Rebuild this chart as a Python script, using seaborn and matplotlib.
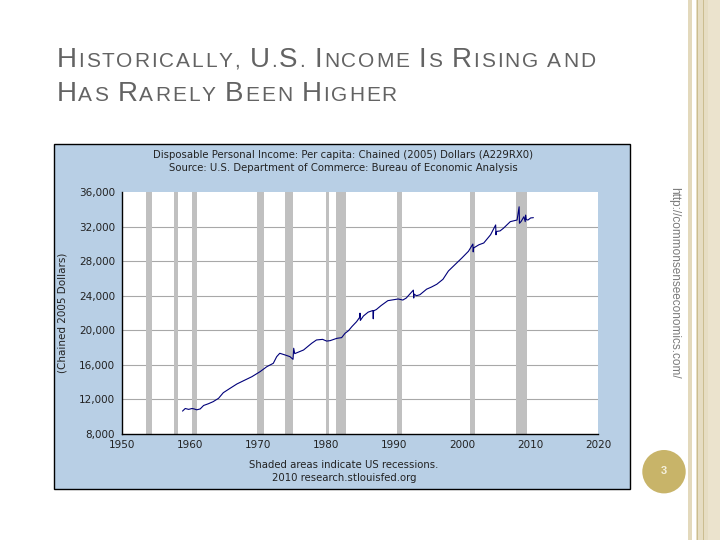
import matplotlib
matplotlib.use('Agg')
import matplotlib.pyplot as plt
import seaborn as sns
from matplotlib.patches import Rectangle, Ellipse

# ==================================================
# DATA
# ==================================================
years = [1958.9, 1959.3, 1959.8, 1960.3, 1960.6, 1961.0, 1961.5, 1962.0, 1962.7,
         1963.4, 1964.2, 1964.9, 1965.9, 1966.9, 1968.1, 1969.1, 1970.3, 1971.3,
         1972.25, 1972.75, 1973.2, 1974.0, 1974.7, 1975.15, 1975.25, 1975.4,
         1976.7, 1977.9, 1978.6, 1979.5, 1980.1, 1980.6, 1981.6, 1982.3, 1982.8,
         1983.3, 1983.8, 1984.5, 1984.95, 1985.0, 1985.05, 1985.5, 1986.2,
         1986.9, 1986.95, 1987.0, 1987.4, 1988.1, 1989.1, 1990.6, 1991.3, 1991.8,
         1992.85, 1992.9, 1992.95, 1993.3, 1993.8, 1994.8, 1995.5, 1996.3, 1997.2,
         1998.0, 1999.0, 2000.0, 2000.95, 2001.6, 2001.65, 2001.7, 2002.5, 2003.2,
         2004.2, 2004.95, 2005.0, 2005.05, 2005.6, 2006.1, 2007.1, 2008.1, 2008.4,
         2008.45, 2008.7, 2009.1, 2009.3, 2009.35, 2009.45, 2009.7, 2010.1, 2010.5]
dpi_pc = [10650, 10950, 10850, 10950, 10900, 10800, 10900, 11300, 11500,
          11740, 12130, 12780, 13290, 13790, 14250, 14630, 15210, 15790,
          16180, 16950, 17340, 17140, 16950, 16640, 17920, 17300,
          17720, 18500, 18880, 18950, 18750, 18800, 19070, 19150, 19650,
          19950, 20420, 21000, 21500, 21980, 21140, 21650, 22100,
          22290, 21330, 22250, 22400, 22860, 23430, 23620, 23500, 23730,
          24650, 23730, 24190, 24000, 24110, 24760, 25000, 25330, 25900,
          26860, 27620, 28380, 29140, 29980, 29070, 29520, 29900, 30100,
          31050, 32190, 31050, 31430, 31500, 31810, 32570, 32760, 34290,
          32380, 32600, 33140, 32570, 33330, 32800, 32760, 33000, 33030]

recessions = [(1953.5, 1954.4), (1957.6, 1958.3), (1960.3, 1961.1), (1969.9, 1970.9),
              (1973.9, 1975.2), (1980.0, 1980.5), (1981.5, 1982.9), (1990.5, 1991.2),
              (2001.2, 2001.9), (2007.9, 2009.5)]

x_ticks = [1950, 1960, 1970, 1980, 1990, 2000, 2010, 2020]
y_ticks = [8000, 12000, 16000, 20000, 24000, 28000, 32000, 36000]

W, H = 720, 540


def fx(px):
    return px / W


def fy(py):
    return 1 - py / H


sns.set_style('white')
plt.rcParams['font.family'] = ['DejaVu Sans']

fig = plt.figure(figsize=(7.2, 5.4), dpi=100)
fig.patch.set_facecolor('white')

# ==================================================
# SLIDE DECORATION
# ==================================================
fig.add_artist(Rectangle((fx(688), 0), fx(692) - fx(688), 1, transform=fig.transFigure,
                         facecolor='#e3d9bc', lw=0, zorder=-5))
fig.add_artist(Rectangle((fx(695.5), 0), 1 - fx(695.5), 1, transform=fig.transFigure,
                         facecolor='#e6ddc3', lw=0, zorder=-5))
fig.add_artist(Rectangle((fx(708), 0), 1 - fx(708), 1, transform=fig.transFigure,
                         facecolor='#ebe3cd', lw=0, zorder=-5))
for lx in [696.5, 702.5]:
    fig.add_artist(Rectangle((fx(lx), 0), 1.2 / W, 1, transform=fig.transFigure,
                             facecolor='#cbbd90', lw=0, zorder=-4))

fig.add_artist(Ellipse((fx(664), fy(471.7)), 2 * 21.7 / W, 2 * 21.7 / H,
                       transform=fig.transFigure, facecolor='#c8b469', lw=0))
fig.text(fx(664), fy(471.5), '3', ha='center', va='center', color='#f4f0dc',
         fontsize=8, fontweight='bold', family='Liberation Sans')

fig.text(fx(674), fy(283), 'http://commonsenseeconomics.com/', rotation=-90,
         ha='center', va='center', color='#7a7a7a', fontsize=8.5, family='Liberation Sans')

# small caps title, letter by letter with a bit of tracking
renderer = fig.canvas.get_renderer()
_widths = {}


def char_width(ch, size):
    key = (ch, size)
    if key not in _widths:
        a = fig.text(0, 0, 'x' + ch + 'x', fontsize=size, family='Liberation Sans')
        b = fig.text(0, 0, 'xx', fontsize=size, family='Liberation Sans')
        _widths[key] = a.get_window_extent(renderer).width - b.get_window_extent(renderer).width
        a.remove()
        b.remove()
    return _widths[key]


def small_caps(x_px, base_px, text, big=20, small=15, track=1.85, color='#636363'):
    x = x_px
    for ch in text:
        size = big if ch.isupper() else small
        c = ch.upper()
        if c != ' ':
            fig.text(fx(x), fy(base_px), c, fontsize=size, color=color,
                     family='Liberation Sans', va='baseline', ha='left')
        x += char_width(c, size) + track


small_caps(56.5, 66.7, 'Historically, U.S. Income Is Rising and')
small_caps(56.5, 101, 'Has Rarely Been Higher')

# ==================================================
# FRED CHART
# ==================================================
fig.add_artist(Rectangle((fx(54), fy(489)), fx(629.5) - fx(54), fy(144) - fy(489),
                         transform=fig.transFigure, facecolor='#b8cfe5',
                         edgecolor='black', lw=1, zorder=-3))

ax = fig.add_axes([fx(122), fy(434), fx(598) - fx(122), fy(192) - fy(434)])
ax.set_facecolor('white')

for v in y_ticks[1:-1]:
    ax.axhline(v, color='#a8a8a8', lw=0.8, zorder=0)
for s, e in recessions:
    ax.axvspan(s, e, color='#c0c0c0', lw=0, zorder=1)

sns.lineplot(x=years, y=dpi_pc, ax=ax, color='#00007a', lw=0.8, zorder=3)

ax.set_xlim(1950, 2020)
ax.set_ylim(8000, 36000)
ax.set_xticks(x_ticks)
ax.set_yticks(y_ticks)
ax.set_yticklabels([f'{v:,}' for v in y_ticks])
ax.tick_params(axis='x', direction='in', length=4, width=0.8, pad=4,
               labelsize=7.5, labelcolor='#222222')
ax.tick_params(axis='y', direction='out', length=3, width=0.8, pad=2,
               labelsize=7.5, labelcolor='#222222')
for side in ['top', 'right']:
    ax.spines[side].set_visible(False)
for side in ['left', 'bottom']:
    ax.spines[side].set_color('black')
    ax.spines[side].set_linewidth(1)
ax.set_xlabel('')
ax.set_ylabel('')

fig.text(fx(63), fy(313), '(Chained 2005 Dollars)', rotation=90, ha='center', va='center',
         fontsize=7.5, color='#222222')
fig.text(fx(343), fy(155), 'Disposable Personal Income: Per capita: Chained (2005) Dollars (A229RX0)',
         ha='center', va='center', fontsize=7.3, color='#222222')
fig.text(fx(343), fy(168), 'Source: U.S. Department of Commerce: Bureau of Economic Analysis',
         ha='center', va='center', fontsize=7.3, color='#222222')
fig.text(fx(344), fy(465), 'Shaded areas indicate US recessions.',
         ha='center', va='center', fontsize=7.3, color='#222222')
fig.text(fx(344), fy(478), '2010 research.stlouisfed.org',
         ha='center', va='center', fontsize=7.3, color='#222222')

fig.savefig('out.png', dpi=100)
